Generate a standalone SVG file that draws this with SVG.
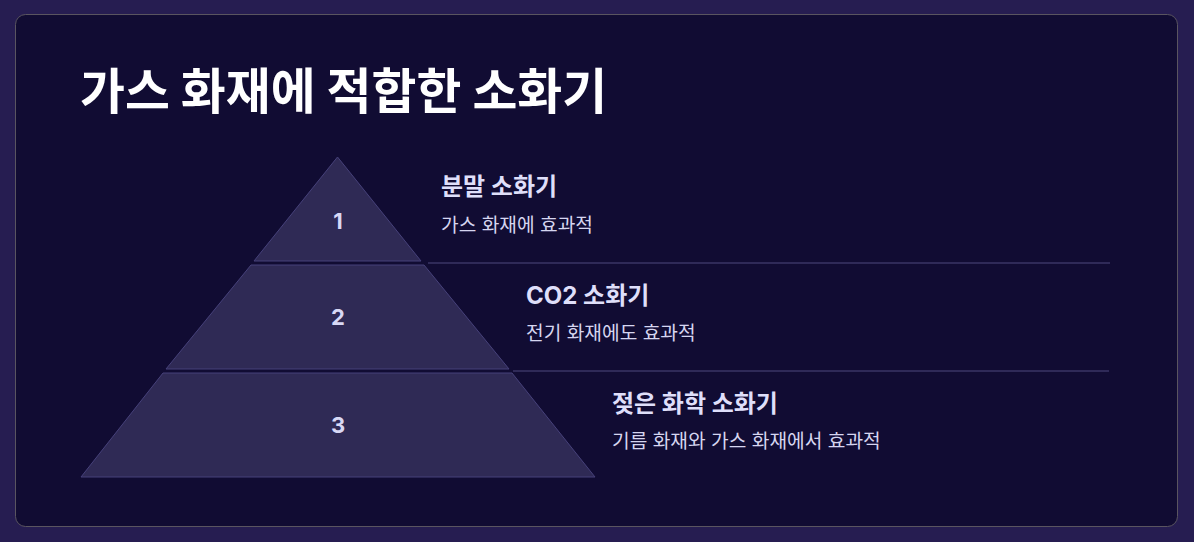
<svg xmlns="http://www.w3.org/2000/svg" width="1194" height="542" viewBox="0 0 1194 542">
<style>
.title{font-family:"Noto Sans CJK KR","Noto Sans",sans-serif;font-weight:700;font-size:48.8px;fill:#ffffff}
.layer{fill:#2f2a55;stroke:#46417a;stroke-width:1}
.num{font-family:Inter,"Noto Sans",sans-serif;font-weight:700;font-size:22px;fill:#d8d8f5;text-anchor:middle;dominant-baseline:central}
.head{font-family:Inter,"Noto Sans CJK KR",sans-serif;font-weight:700;font-size:24px;fill:#dfdffa}
.sub{font-family:Inter,"Noto Sans CJK KR",sans-serif;font-weight:400;font-size:19.2px;fill:#d6d6f0}
.sep{stroke:#2f2a58;stroke-width:2}
</style>
<rect x="0" y="0" width="1194" height="542" fill="#261d51"/>
<rect x="15.5" y="14.5" width="1162" height="512" rx="10" fill="#110c33" stroke="#5a5560" stroke-width="1"/>
<text class="title" x="80" y="109">가스 화재에 적합한 소화기</text>
<g id="connectors">
<line class="sep" x1="428" y1="263" x2="1110" y2="263"/>
<line class="sep" x1="513" y1="371" x2="1109" y2="371"/>
</g>
<g id="layer1">
<polygon class="layer" points="337.5,157 421,261 254,261"/>
<text class="num" x="338" y="221">1</text>
<text class="head" x="441" y="195">분말 소화기</text>
<text class="sub" x="441" y="232">가스 화재에 효과적</text>
</g>
<g id="layer2">
<polygon class="layer" points="251,265 424,265 509,369 166,369"/>
<text class="num" x="338" y="317">2</text>
<text class="head" x="526" y="304">CO2 소화기</text>
<text class="sub" x="526" y="340">전기 화재에도 효과적</text>
</g>
<g id="layer3">
<polygon class="layer" points="163,373 512,373 595,477 81,477"/>
<text class="num" x="338" y="425">3</text>
<text class="head" x="612" y="412">젖은 화학 소화기</text>
<text class="sub" x="612" y="448">기름 화재와 가스 화재에서 효과적</text>
</g>
</svg>
